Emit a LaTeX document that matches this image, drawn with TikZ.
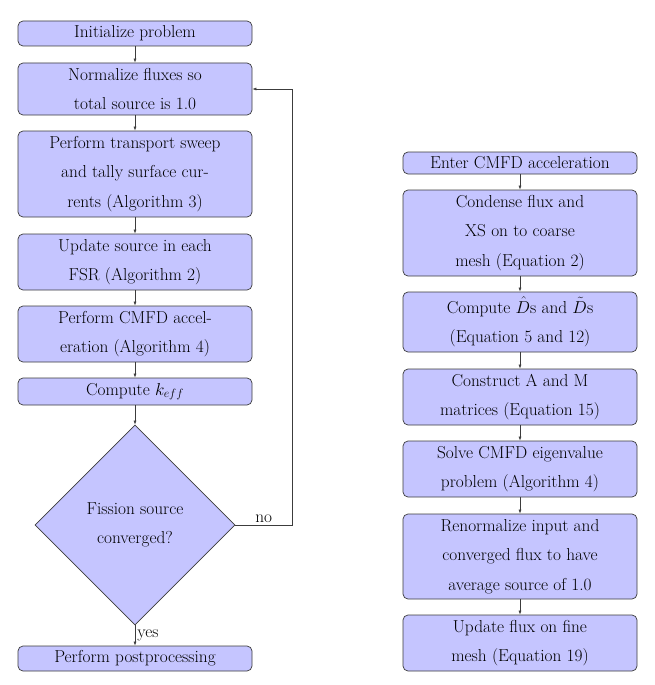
\documentclass[tikz,border=0pt]{standalone}
\usetikzlibrary{shapes.geometric,arrows.meta}
\definecolor{boxfill}{RGB}{197,197,255}
\definecolor{linec}{RGB}{60,60,60}
\begin{document}
\begin{tikzpicture}[x=1pt,y=-1pt,
  font=\fontsize{17.3}{29.5}\selectfont,
  stepbox/.style={draw=linec,fill=boxfill,rounded corners=5pt,minimum width=234pt,align=center,inner sep=0pt,line width=0.7pt},
  decbox/.style={draw=linec,fill=boxfill,diamond,minimum width=200pt,minimum height=200pt,align=center,inner sep=0pt,line width=0.7pt},
  arr/.style={draw=linec,line width=0.6pt,-{Latex[length=4pt,width=3pt]}},
  lbl/.style={inner sep=2pt}]
\useasboundingbox (0,0) rectangle (654,685);
% left column
\node[stepbox,minimum height=25pt] (init) at (135,33.5) {Initialize problem};
\node[stepbox,minimum height=52pt] (norm) at (135,89) {Normalize fluxes so\\total source is 1.0};
\node[stepbox,minimum height=86pt] (sweep) at (135,174) {Perform transport sweep\\and tally surface cur-\\rents (Algorithm 3)};
\node[stepbox,minimum height=56pt] (upd) at (135,262) {Update source in each\\FSR (Algorithm 2)};
\node[stepbox,minimum height=56pt] (cmfd) at (135,334) {Perform CMFD accel-\\eration (Algorithm 4)};
\node[stepbox,minimum height=27pt] (keff) at (135,391.5) {Compute $k_{eff}$};
\node[decbox] (dia) at (135,525) {Fission source\\converged?};
\node[stepbox,minimum height=25pt] (post) at (135,658.5) {Perform postprocessing};
\draw[arr] (init) -- (norm);
\draw[arr] (norm) -- (sweep);
\draw[arr] (sweep) -- (upd);
\draw[arr] (upd) -- (cmfd);
\draw[arr] (cmfd) -- (keff);
\draw[arr] (keff) -- (dia);
\draw[arr] (dia) -- node[lbl,midway,right]{yes} (post);
\coordinate (fb) at (292,525);
\draw[arr] (dia.east) -- node[lbl,midway,above]{no} (fb) |- (norm.east);
% right column
\node[stepbox,minimum height=22pt] (enter) at (520,163) {Enter CMFD acceleration};
\node[stepbox,minimum height=86pt] (cond) at (520,233) {Condense flux and\\XS on to coarse\\mesh (Equation 2)};
\node[stepbox,minimum height=60pt] (dhat) at (520,322) {Compute $\hat{D}$s and $\tilde{D}$s\\(Equation 5 and 12)};
\node[stepbox,minimum height=56pt] (cons) at (520,397) {Construct A and M\\matrices (Equation 15)};
\node[stepbox,minimum height=56pt] (solve) at (520,469) {Solve CMFD eigenvalue\\problem (Algorithm 4)};
\node[stepbox,minimum height=85pt] (renorm) at (520,556.5) {Renormalize input and\\converged flux to have\\average source of 1.0};
\node[stepbox,minimum height=56pt] (fine) at (520,643) {Update flux on fine\\mesh (Equation 19)};
\draw[arr] (enter) -- (cond);
\draw[arr] (cond) -- (dhat);
\draw[arr] (dhat) -- (cons);
\draw[arr] (cons) -- (solve);
\draw[arr] (solve) -- (renorm);
\draw[arr] (renorm) -- (fine);
\end{tikzpicture}
\end{document}
